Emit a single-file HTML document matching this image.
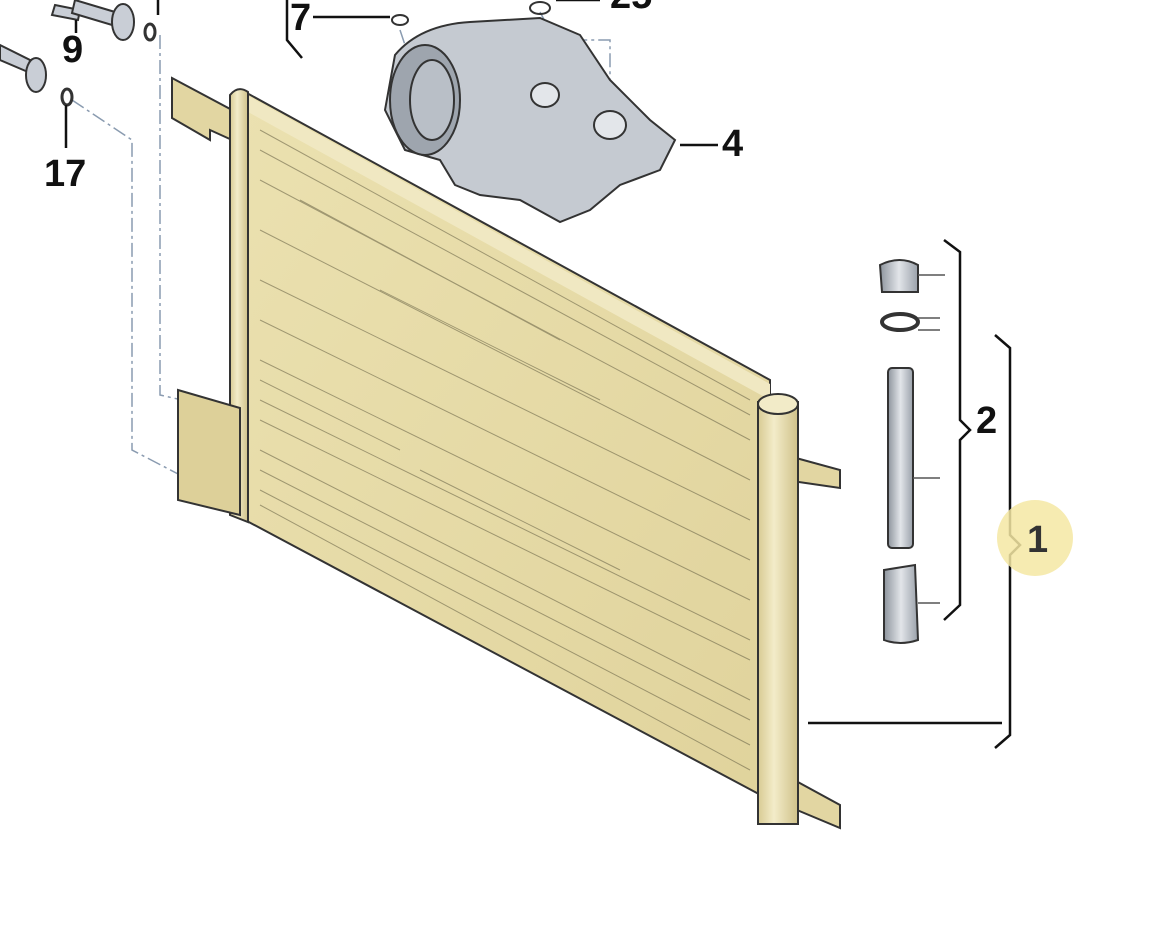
<!DOCTYPE html>
<html><head><meta charset="utf-8"><style>
html,body{margin:0;padding:0;background:#fff;width:1170px;height:941px;overflow:hidden}
svg{display:block}
text{font-family:"Liberation Sans",sans-serif;font-weight:bold;fill:#111}
</style></head><body>
<svg width="1170" height="941" viewBox="0 0 1170 941" xmlns="http://www.w3.org/2000/svg">
<defs>
<linearGradient id="core" x1="0" y1="0" x2="1" y2="1">
<stop offset="0" stop-color="#ebe1b0"/><stop offset="1" stop-color="#e0d39c"/>
</linearGradient>
<linearGradient id="tank" x1="0" y1="0" x2="1" y2="0">
<stop offset="0" stop-color="#d8cb93"/><stop offset=".4" stop-color="#f3ecc9"/><stop offset="1" stop-color="#cfc189"/>
</linearGradient>
<linearGradient id="metal" x1="0" y1="0" x2="1" y2="0">
<stop offset="0" stop-color="#8d949d"/><stop offset=".5" stop-color="#e2e5e9"/><stop offset="1" stop-color="#9aa1aa"/>
</linearGradient>
</defs>
<!-- dashed leader lines -->
<g stroke="#8a9bb0" stroke-width="1.5" fill="none" stroke-dasharray="14,4,3,4">
<path d="M160 35 L160 395 L182 400"/>
<path d="M72 100 L132 140 L132 450 L180 475"/>
<path d="M400 30 L410 60 L540 50 L540 75"/>
<path d="M540 12 L555 40 L610 40 L610 110"/>
</g>
<!-- bolts top-left -->
<g stroke="#333" stroke-width="2" fill="#c9ced6">
<path d="M55 5 L80 10 L78 20 L52 15 Z"/>
<path d="M75 0 L115 12 L112 25 L72 13 Z"/>
<ellipse cx="123" cy="22" rx="11" ry="18"/>
<ellipse cx="150" cy="32" rx="5" ry="8" fill="none" stroke-width="3"/>
<path d="M0 45 L30 60 L28 72 L0 60 Z"/>
<ellipse cx="36" cy="75" rx="10" ry="17"/>
<ellipse cx="67" cy="97" rx="5" ry="8" fill="none" stroke-width="3"/>
</g>
<g stroke="#111" stroke-width="2.5" fill="none">
<path d="M76 20 L76 33"/>
<path d="M66 105 L66 148"/>
<path d="M158 0 L158 15"/>
<path d="M287 0 L287 40 L302 58"/>
<path d="M313 17 L390 17"/>
<path d="M556 0 L600 0"/>
<path d="M680 145 L718 145"/>
</g>
<text x="62" y="62" font-size="38">9</text>
<text x="44" y="186" font-size="38">17</text>
<text x="290" y="30" font-size="38">7</text>
<text x="610" y="8" font-size="38">25</text>
<text x="722" y="156" font-size="38">4</text>
<!-- compressor -->
<g stroke="#333" stroke-width="2">
<path d="M395 55 Q420 25 470 22 L540 18 L580 35 L610 80 L650 120 L675 140 L660 170 L620 185 L590 210 L560 222 L520 200 L480 195 L455 185 L440 160 L405 150 L385 110 Z" fill="#c5cad1"/>
<ellipse cx="425" cy="100" rx="35" ry="55" fill="#9ea5ae"/>
<ellipse cx="432" cy="100" rx="22" ry="40" fill="#b9bfc7"/>
<ellipse cx="545" cy="95" rx="14" ry="12" fill="#e3e6ea"/>
<ellipse cx="610" cy="125" rx="16" ry="14" fill="#e3e6ea"/>
<ellipse cx="400" cy="20" rx="8" ry="5" fill="none"/>
<ellipse cx="540" cy="8" rx="10" ry="6" fill="none"/>
</g>
<!-- condenser -->
<g stroke="#333" stroke-width="2">
<path d="M172 78 L232 110 L232 140 L210 130 L210 140 L172 118 Z" fill="#e2d6a2"/>
<path d="M245 92 L770 380 L770 800 L245 520 Z" fill="url(#core)"/>
<path d="M248 96 L770 384 L770 400 L248 112 Z" fill="#f0e8c2" stroke="none"/>
<path d="M230 95 Q238 85 248 92 L248 522 L230 515 Z" fill="url(#tank)"/>
<path d="M178 390 L240 408 L240 515 L178 500 Z" fill="#ddd099"/>
<path d="M785 455 L840 470 L840 488 L785 480 Z" fill="#e2d6a2"/>
<path d="M785 775 L840 805 L840 828 L785 805 Z" fill="#e2d6a2"/>
<rect x="758" y="402" width="40" height="422" fill="url(#tank)"/>
<ellipse cx="778" cy="404" rx="20" ry="10" fill="#f2ebc8"/>
</g>
<g stroke="#6e684a" stroke-width="1" opacity=".6">
<path d="M260 130 L750 400"/><path d="M260 150 L750 415"/><path d="M260 180 L750 440"/><path d="M260 230 L750 480"/>
<path d="M260 280 L750 520"/><path d="M260 320 L750 560"/><path d="M260 360 L750 600"/><path d="M260 400 L750 640"/><path d="M260 420 L750 660"/>
<path d="M260 450 L750 700"/><path d="M260 470 L750 720"/><path d="M260 490 L750 745"/><path d="M260 505 L750 770"/>
<path d="M300 200 L560 340"/><path d="M380 290 L600 400"/><path d="M420 470 L620 570"/><path d="M260 380 L400 450"/>
</g>
<!-- receiver parts -->
<g stroke="#333" stroke-width="2" fill="url(#metal)">
<path d="M880 265 Q900 255 918 265 L918 292 L882 292 Z"/>
<ellipse cx="900" cy="322" rx="18" ry="8" fill="none" stroke-width="4"/>
<rect x="888" y="368" width="25" height="180" rx="4"/>
<path d="M884 570 L915 565 L918 640 Q900 646 884 640 Z"/>
</g>
<g stroke="#555" stroke-width="1.5">
<path d="M918 275 L945 275"/><path d="M918 318 L940 318"/><path d="M918 330 L940 330"/>
<path d="M913 478 L940 478"/><path d="M918 603 L940 603"/>
</g>
<!-- brackets -->
<g stroke="#111" stroke-width="2.5" fill="none">
<path d="M944 240 L960 252 L960 420 L970 430 L960 440 L960 605 L944 620"/>
<path d="M995 335 L1010 348 L1010 535 L1020 545 L1010 555 L1010 735 L995 748"/>
<path d="M808 723 L1002 723"/>
</g>
<text x="976" y="433" font-size="38">2</text>
<circle cx="1035" cy="538" r="38" fill="#f5e7a3" opacity=".85"/>
<text x="1027" y="552" font-size="38" style="fill:#333">1</text>
</svg>
</body></html>
